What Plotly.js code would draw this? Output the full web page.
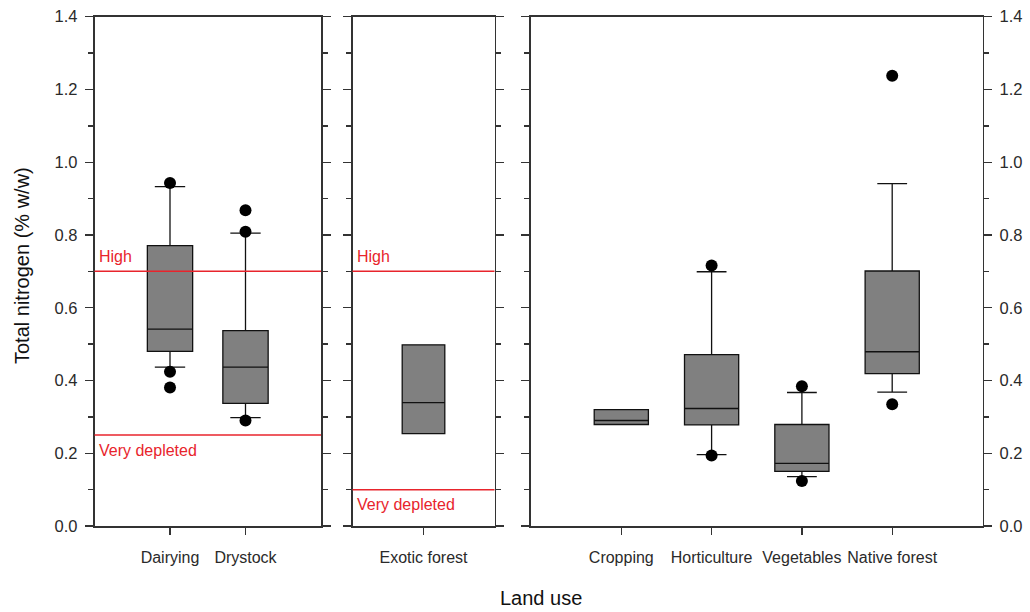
<!DOCTYPE html>
<html>
<head>
<meta charset="utf-8">
<script src="https://cdn.plot.ly/plotly-3.0.1.min.js"></script>
<style>
  html, body { margin: 0; padding: 0; background: #ffffff; }
  #chart { width: 1030px; height: 612px; }
</style>
</head>
<body>
<div id="chart"></div>
<script>
// Land-use groups, one per panel
const pastureCats = ['Dairying', 'Drystock'];
const forestCats = ['Exotic forest'];
const otherCats = ['Cropping', 'Horticulture', 'Vegetables', 'Native forest'];

// Box statistics (total N, % w/w)
const pastureQ1 = [0.480, 0.337];
const pastureMedian = [0.541, 0.437];
const pastureQ3 = [0.771, 0.537];
const pastureLow = [0.437, 0.298];
const pastureHigh = [0.933, 0.805];

const forestQ1 = [0.254];
const forestMedian = [0.339];
const forestQ3 = [0.498];
const forestLow = [0.254];
const forestHigh = [0.498];

const otherQ1 = [0.279, 0.278, 0.150, 0.419];
const otherMedian = [0.290, 0.323, 0.172, 0.479];
const otherQ3 = [0.320, 0.471, 0.279, 0.701];
const otherLow = [0.279, 0.196, 0.136, 0.368];
const otherHigh = [0.320, 0.699, 0.367, 0.941];

// Individual outlying samples
const pastureOutX = ['Dairying', 'Dairying', 'Dairying', 'Drystock', 'Drystock', 'Drystock'];
const pastureOutY = [0.943, 0.424, 0.381, 0.868, 0.809, 0.290];
const otherOutX = ['Horticulture', 'Horticulture', 'Vegetables', 'Vegetables', 'Native forest', 'Native forest'];
const otherOutY = [0.716, 0.194, 0.384, 0.124, 1.238, 0.335];

// Soil quality target ranges
const thresholdLabels = ['High', 'Very depleted'];
const pastureThresholds = [0.7, 0.25];
const forestThresholds = [0.7, 0.10];

// Axis ticks
const yTickVals = [0, 0.2, 0.4, 0.6, 0.8, 1.0, 1.2, 1.4];
const yTickText = ['0.0', '0.2', '0.4', '0.6', '0.8', '1.0', '1.2', '1.4'];
const yMinorVals = [0.1, 0.3, 0.5, 0.7, 0.9, 1.1, 1.3];

const FONT = 'Liberation Sans, Arial, sans-serif';
const AXIS_COLOR = '#333333';
const RED = '#e8242c';
const BOX_FILL = '#808080';

function boxTrace(cats, q1, med, q3, lo, hi, xa, ya, whisker) {
  return {
    type: 'box',
    x: cats, q1: q1, median: med, q3: q3, lowerfence: lo, upperfence: hi,
    xaxis: xa, yaxis: ya,
    width: 0.6,
    whiskerwidth: whisker,
    fillcolor: BOX_FILL,
    line: { color: '#111111', width: 1.3 },
    boxpoints: false,
    hoverinfo: 'skip',
    showlegend: false
  };
}

function dotTrace(xs, ys, xa, ya) {
  return {
    type: 'scatter', mode: 'markers',
    x: xs, y: ys, xaxis: xa, yaxis: ya,
    marker: { color: '#000000', size: 12 },
    hoverinfo: 'skip', showlegend: false
  };
}

const traces = [
  boxTrace(pastureCats, pastureQ1, pastureMedian, pastureQ3, pastureLow, pastureHigh, 'x', 'y', 0.67),
  boxTrace(forestCats, forestQ1, forestMedian, forestQ3, forestLow, forestHigh, 'x2', 'y2', 0),
  boxTrace(otherCats, otherQ1, otherMedian, otherQ3, otherLow, otherHigh, 'x3', 'y3', 0.55),
  dotTrace(pastureOutX, pastureOutY, 'x', 'y'),
  dotTrace(otherOutX, otherOutY, 'x3', 'y3')
];

const yDomain = [0.1405, 0.9727];

function xAxis(domain, cats, yAnchor) {
  return {
    domain: domain,
    anchor: yAnchor,
    type: 'category',
    categoryorder: 'array',
    categoryarray: cats,
    range: [-1, cats.length],
    showline: true, linecolor: AXIS_COLOR, linewidth: 1.7,
    mirror: true,
    ticks: 'outside', ticklen: 7, tickwidth: 1.4, tickcolor: AXIS_COLOR,
    ticklabelstandoff: 9,
    showgrid: false, zeroline: false,
    tickfont: { family: FONT, size: 16, color: '#2a2a2a' },
    fixedrange: true
  };
}

function yAxis(anchor, side, showLabels) {
  return {
    domain: yDomain,
    anchor: anchor,
    side: side,
    range: [0, 1.4],
    tickvals: yTickVals,
    ticktext: yTickText,
    showticklabels: showLabels,
    showline: true, linecolor: AXIS_COLOR, linewidth: 1.7,
    mirror: 'ticks',
    ticks: 'outside', ticklen: 8, tickwidth: 1.4, tickcolor: AXIS_COLOR,
    minor: { tickvals: yMinorVals, ticks: 'outside', ticklen: 5, tickwidth: 1.4, tickcolor: AXIS_COLOR, showgrid: false },
    ticklabelstandoff: 4,
    showgrid: false, zeroline: false,
    tickfont: { family: FONT, size: 16.5, color: '#2a2a2a' },
    fixedrange: true
  };
}

const shapes = [];
const annotations = [];

function addThresholds(values, xa, ya) {
  values.forEach(function (v, i) {
    shapes.push({
      type: 'line', xref: xa + ' domain', yref: ya,
      x0: 0, x1: 1, y0: v, y1: v,
      line: { color: RED, width: 1.5 }
    });
    annotations.push({
      xref: xa + ' domain', yref: ya,
      x: 0, y: v, xanchor: 'left', yanchor: 'middle',
      xshift: 2, yshift: i === 0 ? 15 : -15,
      text: thresholdLabels[i], showarrow: false,
      font: { family: FONT, size: 16, color: RED }
    });
  });
}
addThresholds(pastureThresholds, 'x', 'y');
addThresholds(forestThresholds, 'x2', 'y2');

annotations.push({
  xref: 'paper', yref: 'paper', x: 541 / 1030, y: 14 / 612,
  xanchor: 'center', yanchor: 'middle',
  text: 'Land use', showarrow: false,
  font: { family: FONT, size: 20, color: '#111111' }
});
annotations.push({
  xref: 'paper', yref: 'paper', x: 22 / 1030, y: (612 - 266) / 612,
  xanchor: 'center', yanchor: 'middle', textangle: -90,
  text: 'Total nitrogen (% w/w)', showarrow: false,
  font: { family: FONT, size: 20, color: '#111111' }
});

const layout = {
  width: 1030, height: 612,
  margin: { l: 0, r: 0, t: 0, b: 0 },
  paper_bgcolor: '#ffffff', plot_bgcolor: '#ffffff',
  showlegend: false,
  xaxis: xAxis([94.5 / 1030, 321 / 1030], pastureCats, 'y'),
  xaxis2: xAxis([352.5 / 1030, 494.5 / 1030], forestCats, 'y2'),
  xaxis3: xAxis([531 / 1030, 982.5 / 1030], otherCats, 'y3'),
  yaxis: yAxis('x', 'left', true),
  yaxis2: yAxis('x2', 'left', false),
  yaxis3: yAxis('x3', 'right', true),
  shapes: shapes,
  annotations: annotations
};

Plotly.newPlot('chart', traces, layout, { staticPlot: true, displayModeBar: false });
</script>
</body>
</html>
